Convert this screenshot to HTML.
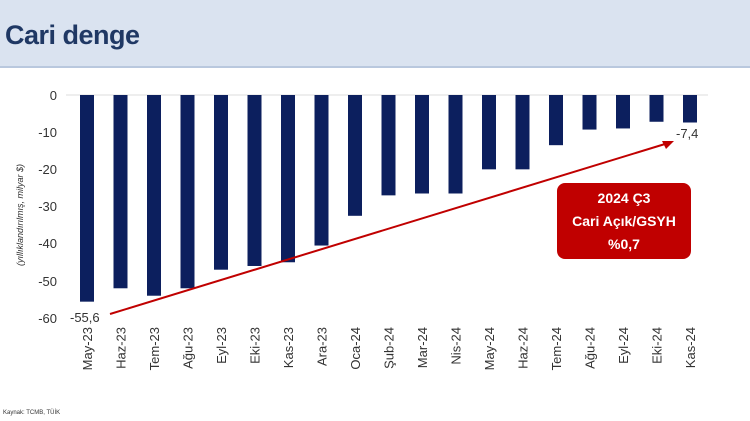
<!DOCTYPE html>
<html><head><meta charset="utf-8"><style>
body{margin:0;width:750px;height:421px;background:#fff;overflow:hidden;font-family:"Liberation Sans",sans-serif}
.hdr{position:absolute;left:0;top:0;width:750px;height:66px;background:#dae3f0;border-bottom:2px solid #b9c8de}
.hdr span{position:absolute;left:5px;top:20px;font-size:27px;font-weight:bold;color:#1f3864;letter-spacing:-0.5px}
</style></head><body>
<div class="hdr"><span>Cari denge</span></div>
<svg width="750" height="421" style="position:absolute;left:0;top:0">
<g font-size="13" fill="#333" text-anchor="end">
<text x="57" y="100">0</text><text x="57" y="137">-10</text><text x="57" y="174">-20</text><text x="57" y="211">-30</text><text x="57" y="248">-40</text><text x="57" y="286">-50</text><text x="57" y="323">-60</text>
</g>
<line x1="66" y1="95" x2="708" y2="95" stroke="#ddd"/>
<text transform="translate(23,215) rotate(-90)" font-size="9" font-style="italic" fill="#333" text-anchor="middle">(yıllıklandırılmış, milyar $)</text>
<g fill="#0c1f5e" id="bars"></g>
<g id="lbl" font-size="13" fill="#333" text-anchor="end"></g>
<line x1="110" y1="314" x2="665" y2="144" stroke="#c00000" stroke-width="2"/>
<polygon points="674,141 662,141 666,149" fill="#c00000"/>
<text x="70" y="322" font-size="13" fill="#333">-55,6</text>
<text x="676" y="138" font-size="13" fill="#333">-7,4</text>
<rect x="557" y="183" width="134" height="76" rx="8" fill="#c00000"/>
<g fill="#fff" font-size="14" font-weight="bold" text-anchor="middle">
<text x="624" y="203">2024 Ç3</text><text x="624" y="226">Cari Açık/GSYH</text><text x="624" y="249">%0,7</text>
</g>
<text x="3" y="414" font-size="6" fill="#333">Kaynak: TCMB, TÜİK</text>
</svg>
<script>
var v=[55.6,52,54,52,47,46,45,40.5,32.5,27,26.5,26.5,20,20,13.5,9.3,9,7.2,7.4];
var m=["May-23","Haz-23","Tem-23","Ağu-23","Eyl-23","Eki-23","Kas-23","Ara-23","Oca-24","Şub-24","Mar-24","Nis-24","May-24","Haz-24","Tem-24","Ağu-24","Eyl-24","Eki-24","Kas-24"];
var b=document.getElementById('bars'),l=document.getElementById('lbl'),ns="http://www.w3.org/2000/svg";
v.forEach(function(x,i){var c=87+i*33.5;var r=document.createElementNS(ns,'rect');
r.setAttribute('x',c-7);r.setAttribute('y',95);r.setAttribute('width',14);r.setAttribute('height',x*3.717);b.appendChild(r);
var t=document.createElementNS(ns,'text');t.setAttribute('transform','translate('+(c+5)+',327) rotate(-90)');t.textContent=m[i];l.appendChild(t);});
</script>
</body></html>
